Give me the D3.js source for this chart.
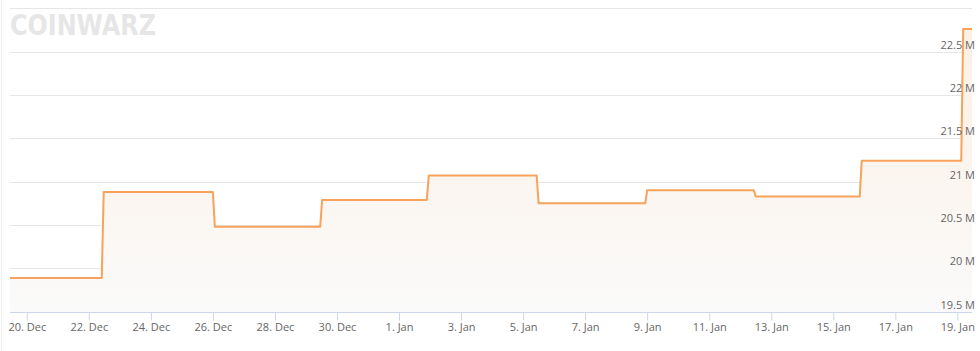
<!DOCTYPE html>
<html>
<head>
<meta charset="utf-8">
<script src="https://cdn.jsdelivr.net/npm/d3@7"></script>
<style>
  body { margin: 0; background: #fff; }
  svg { display: block; font-family: "Open Sans", sans-serif; }
</style>
</head>
<body>
<script>
// difficulty readings (time, value in millions)
var times = [
  "2017-12-19 11:00", "2017-12-22 10:00", "2017-12-22 11:30",
  "2017-12-26 00:00", "2017-12-26 01:30", "2017-12-29 11:00",
  "2017-12-29 12:30", "2018-01-01 21:30", "2018-01-01 23:00",
  "2018-01-05 10:30", "2018-01-05 12:00", "2018-01-08 22:30",
  "2018-01-09 00:00", "2018-01-12 10:30", "2018-01-12 12:00",
  "2018-01-15 20:30", "2018-01-15 22:00", "2018-01-19 03:00",
  "2018-01-19 04:30", "2018-01-19 11:20"
]
var values = [
  19.89, 19.89, 20.88,
  20.88, 20.48, 20.48,
  20.79, 20.79, 21.07,
  21.07, 20.75, 20.75,
  20.90, 20.90, 20.83,
  20.83, 21.24, 21.24,
  22.76, 22.76
]
var yTicks = [19.5, 20, 20.5, 21, 21.5, 22, 22.5, 23]
var xTicks = ["2017-12-20", "2017-12-22", "2017-12-24", "2017-12-26", "2017-12-28",
  "2017-12-30", "2018-01-01", "2018-01-03", "2018-01-05", "2018-01-07", "2018-01-09",
  "2018-01-11", "2018-01-13", "2018-01-15", "2018-01-17", "2018-01-19"]

var parseTime = d3.timeParse("%Y-%m-%d %H:%M")
var parseDay = d3.timeParse("%Y-%m-%d")
var fmt = d3.timeFormat("%-d. %b")

var data = times.map((t, i) => ({ date: parseTime(t), value: values[i] }))

var width = 980, height = 351
var plotL = 10, plotR = 972, plotT = 8.3, plotB = 311.7

var x = d3.scaleTime()
    .domain([parseTime("2017-12-19 11:00"), parseTime("2018-01-19 11:20")])
    .range([plotL, plotR])

var y = d3.scaleLinear()
    .domain([19.5, 23])
    .range([plotB, plotT])

var svg = d3.select("body").append("svg")
    .attr("width", width)
    .attr("height", height)

var defs = svg.append("defs")
var grad = defs.append("linearGradient")
    .attr("id", "fillGrad")
    .attr("gradientUnits", "userSpaceOnUse")
    .attr("x1", 0).attr("y1", y(22.76)).attr("x2", 0).attr("y2", plotB)
grad.append("stop").attr("offset", "0%").attr("stop-color", "#fcf0e4")
grad.append("stop").attr("offset", "100%").attr("stop-color", "#fafafa")

// faint left border
svg.append("line")
    .attr("x1", 1.5).attr("x2", 1.5)
    .attr("y1", 0).attr("y2", height)
    .attr("stroke", "#eeeeee")

// watermark
svg.append("text")
    .attr("x", 10).attr("y", 35)
    .attr("font-family", "DejaVu Sans, sans-serif")
    .attr("font-size", 28)
    .attr("font-weight", "bold")
    .attr("fill", "#e6e6e6")
    .attr("textLength", 146)
    .attr("lengthAdjust", "spacingAndGlyphs")
    .text("COINWARZ")

// grid
svg.append("g").selectAll("line")
    .data(yTicks.slice(1))
  .enter().append("line")
    .attr("x1", plotL).attr("x2", plotR)
    .attr("y1", d => Math.round(y(d)) + 0.5)
    .attr("y2", d => Math.round(y(d)) + 0.5)
    .attr("stroke", "#e6e6e6")

var area = d3.area()
    .x(d => x(d.date))
    .y0(plotB)
    .y1(d => y(d.value))

var line = d3.line()
    .x(d => x(d.date))
    .y(d => y(d.value))

svg.append("path")
    .datum(data)
    .attr("d", area)
    .attr("fill", "url(#fillGrad)")

svg.append("path")
    .datum(data)
    .attr("d", line)
    .attr("fill", "none")
    .attr("stroke", "#f7a35c")
    .attr("stroke-width", 2)
    .attr("stroke-linejoin", "round")

// x axis
var xAxis = d3.axisBottom(x)
    .tickValues(xTicks.map(parseDay))
    .tickFormat(fmt)
    .tickSize(8)
    .tickPadding(3)

var gx = svg.append("g")
    .attr("transform", "translate(0," + (Math.round(plotB) + 0.5) + ")")
    .call(xAxis)
gx.select(".domain").attr("stroke", "#ccd6eb").attr("d", "M" + plotL + ",0H" + plotR)
gx.selectAll(".tick line").attr("stroke", "#ccd6eb")
gx.selectAll(".tick text").attr("fill", "#666666").attr("font-size", 11)
    .attr("font-family", "Open Sans, sans-serif")

// y labels on the right, inside
svg.append("g").selectAll("text")
    .data(yTicks.slice(0, 7))
  .enter().append("text")
    .attr("x", 975)
    .attr("y", d => y(d) - 3)
    .attr("text-anchor", "end")
    .attr("font-size", 11)
    .attr("fill", "#666666")
    .text(d => d + " M")
</script>
</body>
</html>
